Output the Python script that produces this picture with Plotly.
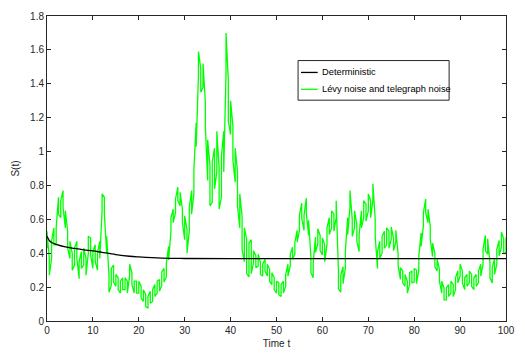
import plotly.graph_objects as go

# ---- data ----
t_step = 0.5
levy_center = [
    0.48, 0.32, 0.42, 0.50, 0.50, 0.68, 0.66, 0.72, 0.60, 0.48,   # 0 - 4.5
    0.42, 0.35, 0.38, 0.42, 0.30, 0.36, 0.38, 0.32, 0.45, 0.44,   # 5 - 9.5
    0.36, 0.40, 0.35, 0.42, 0.70, 0.68, 0.45, 0.22, 0.26, 0.28,   # 10 - 14.5
    0.24, 0.22, 0.20, 0.22, 0.22, 0.20, 0.30, 0.25, 0.20, 0.20,   # 15 - 19.5
    0.20, 0.17, 0.15, 0.12, 0.11, 0.14, 0.15, 0.18, 0.20, 0.21,   # 20 - 24.5
    0.25, 0.27, 0.30, 0.40, 0.57, 0.62, 0.68, 0.75, 0.72, 0.62,   # 25 - 29.5
    0.55, 0.47, 0.60, 0.70, 0.82, 1.10, 1.52, 1.42, 1.45, 1.22,   # 30 - 34.5
    0.95, 0.80, 0.82, 0.90, 1.00, 0.78, 0.85, 1.00, 1.58, 1.30,   # 35 - 39.5
    1.20, 1.05, 0.92, 0.78, 0.65, 0.52, 0.45, 0.38, 0.36, 0.38,   # 40 - 44.5
    0.38, 0.35, 0.36, 0.31, 0.30, 0.33, 0.30, 0.27, 0.25, 0.22,   # 45 - 49.5
    0.20, 0.19, 0.18, 0.20, 0.24, 0.30, 0.36, 0.40, 0.43, 0.50,   # 50 - 54.5
    0.58, 0.65, 0.58, 0.68, 0.55, 0.33, 0.30, 0.45, 0.50, 0.46,   # 55 - 59.5
    0.44, 0.40, 0.50, 0.56, 0.60, 0.58, 0.66, 0.24, 0.22, 0.27,   # 60 - 64.5
    0.36, 0.56, 0.72, 0.55, 0.60, 0.52, 0.46, 0.60, 0.66, 0.64,   # 65 - 69.5
    0.70, 0.66, 0.76, 0.55, 0.36, 0.42, 0.45, 0.48, 0.50, 0.48,   # 70 - 74.5
    0.52, 0.45, 0.50, 0.36, 0.28, 0.26, 0.24, 0.20, 0.25, 0.26,   # 75 - 79.5
    0.27, 0.26, 0.34, 0.48, 0.60, 0.68, 0.62, 0.52, 0.42, 0.36,   # 80 - 84.5
    0.33, 0.27, 0.20, 0.16, 0.16, 0.18, 0.20, 0.18, 0.22, 0.26,   # 85 - 89.5
    0.30, 0.26, 0.22, 0.24, 0.26, 0.24, 0.22, 0.24, 0.26, 0.30,   # 90 - 94.5
    0.38, 0.46, 0.44, 0.30, 0.27, 0.32, 0.38, 0.43, 0.48, 0.44,   # 95 - 99.5
    0.45,                                                         # 100
]
# half thickness of the noisy band, one value per 5 time units
levy_halfwidth = [0.05, 0.05, 0.05, 0.035, 0.035, 0.04, 0.07, 0.12, 0.10, 0.035,
                  0.035, 0.045, 0.05, 0.05, 0.05, 0.035, 0.04, 0.035, 0.035, 0.045]

det_t = [0, 0.5, 1, 2, 4, 6, 8, 10, 12, 15, 18, 20, 25, 30, 40, 60, 80, 100]
det_s = [0.50, 0.475, 0.463, 0.452, 0.437, 0.428, 0.42, 0.414, 0.405, 0.392,
         0.382, 0.378, 0.371, 0.369, 0.368, 0.368, 0.368, 0.368]

x_ticks = [0, 10, 20, 30, 40, 50, 60, 70, 80, 90, 100]
y_ticks = [0, 0.2, 0.4, 0.6, 0.8, 1.0, 1.2, 1.4, 1.6, 1.8]
y_tick_labels = ["0", "0.2", "0.4", "0.6", "0.8", "1", "1.2", "1.4", "1.6", "1.8"]

legend_names = ["Deterministic", "Lévy noise and telegraph noise"]

# ---- build the noisy band: a vertical stroke across the band at each sample ----
levy_t, levy_s = [], []
for k, c in enumerate(levy_center):
    t = k * t_step
    hw = levy_halfwidth[min(int(t // 5), len(levy_halfwidth) - 1)]
    pair = (c - hw, c + hw) if k % 2 == 0 else (c + hw, c - hw)
    for v in pair:
        levy_t.append(t)
        levy_s.append(v)

FONT = "Liberation Sans Narrow, Liberation Sans, Arial, sans-serif"
AX = "#262626"

fig = go.Figure()
fig.add_trace(go.Scatter(x=levy_t, y=levy_s, mode="lines",
                         line=dict(color="#00FF00", width=1.3),
                         name=legend_names[1], showlegend=False))
fig.add_trace(go.Scatter(x=det_t, y=det_s, mode="lines",
                         line=dict(color="black", width=1.3, shape="spline"),
                         name=legend_names[0], showlegend=False))

axis_common = dict(showgrid=False, zeroline=False, showline=True, linecolor=AX,
                   linewidth=1, mirror="ticks", ticks="inside", ticklen=4,
                   tickcolor=AX, tickfont=dict(family=FONT, size=10, color=AX))

fig.update_xaxes(range=[0, 100], tickvals=x_ticks, **axis_common,
                 title=dict(text="Time t", font=dict(family=FONT, size=10, color=AX),
                            standoff=4))
fig.update_yaxes(range=[0, 1.8], tickvals=y_ticks, ticktext=y_tick_labels,
                 **axis_common,
                 title=dict(text="S(t)", font=dict(family=FONT, size=10, color=AX),
                            standoff=8))

# ---- MATLAB-like legend box drawn in paper coords ----
# plot area: 47..515 px (x), 13..321 px (y)
def px2x(px):
    return (px - 47) / (515 - 47)

def px2y(py):
    return (321 - py) / (321 - 13)

shapes = [
    dict(type="rect", xref="paper", yref="paper",
         x0=px2x(303), x1=px2x(457), y0=px2y(98), y1=px2y(58),
         line=dict(color=AX, width=1), fillcolor="white", layer="above"),
    dict(type="line", xref="paper", yref="paper",
         x0=px2x(306), x1=px2x(323), y0=px2y(70), y1=px2y(70),
         line=dict(color="black", width=1.3), layer="above"),
    dict(type="line", xref="paper", yref="paper",
         x0=px2x(306), x1=px2x(323), y0=px2y(87), y1=px2y(87),
         line=dict(color="#00FF00", width=1.3), layer="above"),
]
annotations = [
    dict(xref="paper", yref="paper", x=px2x(325), y=px2y(70), text=legend_names[0],
         showarrow=False, xanchor="left", yanchor="middle",
         font=dict(family=FONT, size=9.3, color="black")),
    dict(xref="paper", yref="paper", x=px2x(325), y=px2y(87), text=legend_names[1],
         showarrow=False, xanchor="left", yanchor="middle",
         font=dict(family=FONT, size=9.3, color="black")),
]

fig.update_layout(width=525, height=361, margin=dict(l=47, r=10, t=13, b=40),
                  plot_bgcolor="white", paper_bgcolor="white",
                  shapes=shapes, annotations=annotations, showlegend=False)

fig.write_html("out.html")
